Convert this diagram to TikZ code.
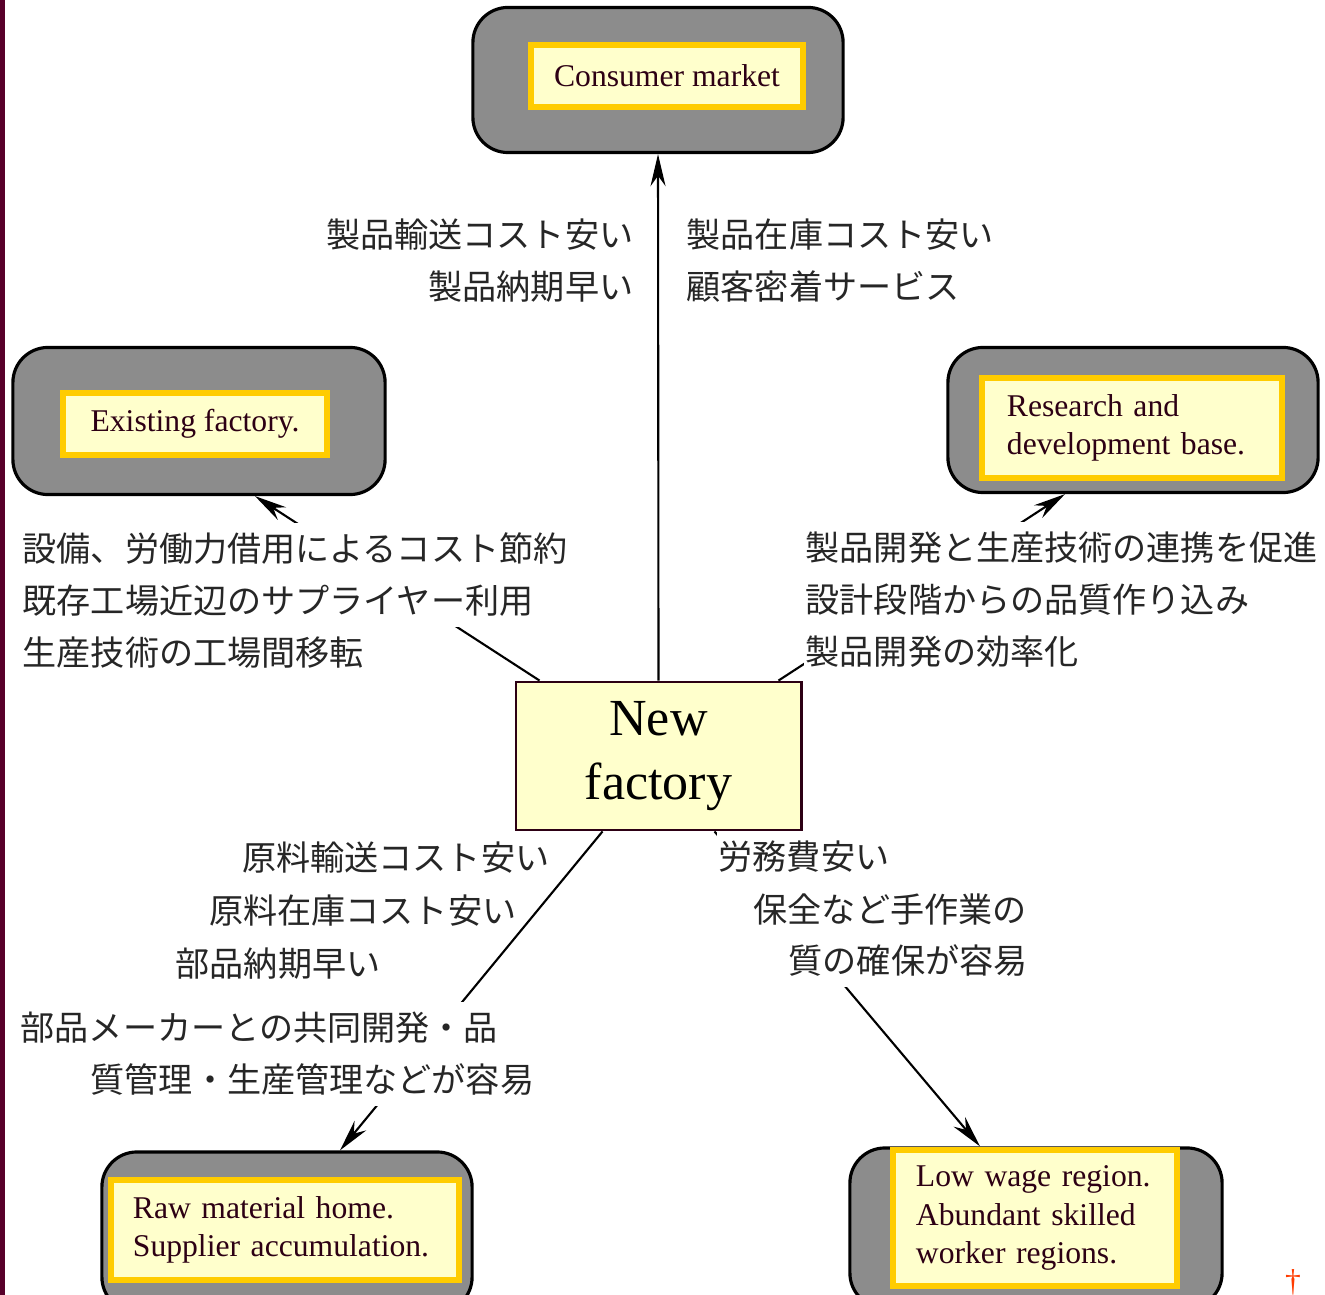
\documentclass[tikz,border=0pt]{standalone}
\usepackage{fontspec}
\setmainfont{Liberation Serif}
\newfontfamily\jp{Noto Sans CJK JP}
\usetikzlibrary{arrows.meta,calc}
\definecolor{barmaroon}{RGB}{88,0,42}
\definecolor{scangray}{RGB}{140,140,140}
\definecolor{paleyellow}{RGB}{255,255,204}
\definecolor{goldline}{RGB}{255,204,0}
\definecolor{inkmaroon}{RGB}{45,0,20}
\definecolor{daggerred}{RGB}{255,60,0}

\begin{document}
\begin{tikzpicture}[x=0.01cm, y=-0.01cm,
    graybox/.style={draw=black, line width=0.9pt, fill=scangray, rounded corners=0.35cm, minimum width=3.7cm, minimum height=1.45cm},
    ybox/.style={draw=goldline, line width=1.7pt, fill=paleyellow, text=inkmaroon, align=left, inner sep=0pt, font=\fontsize{9}{10.9}\selectfont},
    jtext/.style={fill=white, inner xsep=0.02cm, inner ysep=0.1cm, text=black!85, font=\jp\fontsize{9.7}{12}\selectfont},
    link/.style={line width=0.6pt, -{Stealth[length=0.32cm, width=0.15cm]}}]

  \useasboundingbox (0,0) rectangle (1325,1295);
  \clip (0,0) rectangle (1325,1295);
  \fill[white] (0,0) rectangle (1325,1295);
  \fill[barmaroon] (0,0) rectangle (5,1295);

  % Gray scanned boxes
  \node[graybox] (consg) at (658,80) {};
  \node[graybox, minimum width=3.72cm, minimum height=1.47cm] (exg) at (199,421) {};
  \node[graybox] (rdg) at (1133,420) {};
  \node[graybox, minimum height=1.6cm] (rawg) at (287,1232) {};
  \node[graybox, minimum width=3.72cm, minimum height=1.6cm] (lowg) at (1036,1228) {};

  % Yellow labels
  \node[ybox, minimum width=2.72cm, minimum height=0.62cm] (cons) at (667,76) {Consumer market};
  \node[ybox, minimum width=2.64cm, minimum height=0.62cm] (exf) at (195,424) {Existing factory.};
  \node[ybox, minimum width=2.99cm, minimum height=1.0cm, text width=2.5cm] (rd) at (1132,428) {Research and\\ development base.};
  \node[ybox, minimum width=3.48cm, minimum height=1.0cm, text width=3.04cm] (raw) at (285,1230) {Raw material home.\\Supplier accumulation.};
  \node[ybox, minimum width=2.84cm, minimum height=1.36cm, text width=2.38cm] (low) at (1035,1218) {Low wage region.\\Abundant skilled\\worker regions.};

  % New factory
  \node[draw=inkmaroon, line width=0.8pt, fill=paleyellow, minimum width=2.85cm, minimum height=1.48cm, align=center, font=\fontsize{14.8}{18}\selectfont] (newf) at (658.5,756) {New\\factory};

  % Connectors
  \draw[link] (newf.north) -- (consg.south);
  \draw[link] ($(newf.north west)+(25,0)$) -- ($(exg.south)+(56,0)$);
  \draw[link] ($(newf.north east)+(-24,0)$) -- ($(rdg.south)+(-68,0)$);
  \draw[link] ($(newf.south west)+(88,0)$) -- ($(rawg.north)+(53,0)$);
  \draw[link] ($(newf.south west)+(200,0)$) -- ($(lowg.north)+(-56,0)$);

  % Reasons (top)
  \node[jtext, anchor=east] (t1) at (636,235) {製品輸送コスト安い};
  \node[jtext, anchor=east] (t2) at (636,287) {製品納期早い};
  \node[jtext, anchor=west] (t3) at (684,235) {製品在庫コスト安い};
  \node[jtext, anchor=west] (t4) at (684,287) {顧客密着サービス};

  % Reasons (middle)
  \node[jtext, anchor=west] (l1) at (20,549) {設備、労働力借用によるコスト節約};
  \node[jtext, anchor=west] (l2) at (20,601) {既存工場近辺のサプライヤー利用};
  \node[jtext, anchor=west] (l3) at (20,653) {生産技術の工場間移転};
  \node[jtext, anchor=west] (r1) at (803,548) {製品開発と生産技術の連携を促進};
  \node[jtext, anchor=west] (r2) at (803,600) {設計段階からの品質作り込み};
  \node[jtext, anchor=west] (r3) at (803,652) {製品開発の効率化};

  % Reasons (bottom)
  \node[jtext, inner ysep=0.02cm, anchor=east] (b1) at (552,858) {原料輸送コスト安い};
  \node[jtext, inner ysep=0.02cm, anchor=east] (b2) at (519,911) {原料在庫コスト安い};
  \node[jtext, inner ysep=0.02cm, anchor=west] (b3) at (173,964) {部品納期早い};
  \node[jtext, anchor=west] (b4) at (18,1028) {部品メーカーとの共同開発・品};
  \node[jtext, anchor=west] (b5) at (88,1080) {質管理・生産管理などが容易};
  \node[jtext, anchor=west] (w1) at (716,857) {労務費安い};
  \node[jtext, anchor=west] (w2) at (751,909) {保全など手作業の};
  \node[jtext, anchor=west] (w3) at (786,961) {質の確保が容易};

  \node[text=daggerred, font=\fontsize{9}{9}\selectfont] (dag) at (1293,1282) {\dag};
\end{tikzpicture}
\end{document}
